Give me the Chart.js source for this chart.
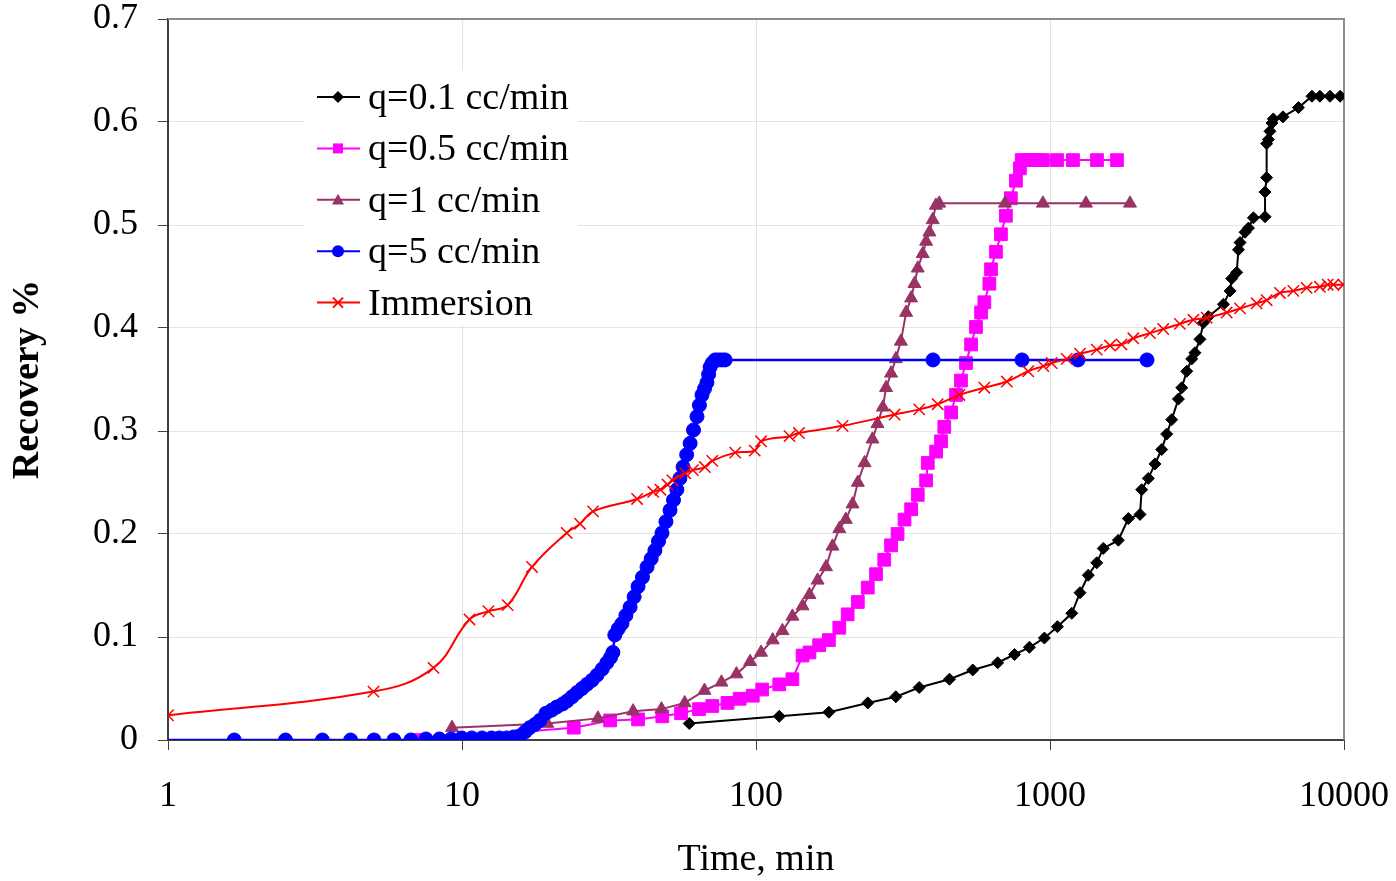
<!DOCTYPE html>
<html>
<head>
<meta charset="utf-8">
<title>Recovery vs time</title>
<script src="https://cdn.jsdelivr.net/npm/chart.js@4"></script>
<style>
    body { margin: 0; background: #fff; }
    #wrap { width: 1396px; height: 881px; }
</style>
</head>
<body>
<div id="wrap"><canvas id="chartRecovery" width="1396" height="881"></canvas></div>
<script>
// Series labels (legend order)
const seriesLabels = ['q=0.1 cc/min', 'q=0.5 cc/min', 'q=1 cc/min', 'q=5 cc/min', 'Immersion'];

// Axis ticks
const xTicks = [1, 10, 100, 1000, 10000];
const yTicks = [0, 0.1, 0.2, 0.3, 0.4, 0.5, 0.6, 0.7];

// q=0.1 cc/min
const timeQ01 = [59.3, 120, 177, 240, 299, 359, 455, 546, 664, 757, 851, 957, 1060, 1186, 1265, 1350, 1442, 1518, 1708, 1847,
    2024, 2050, 2160, 2275, 2398, 2494, 2594, 2734, 2806, 2918, 3034, 3112, 3236, 3324, 3457, 3890, 4096, 4150, 4316, 4375,
    4430, 4607, 4732, 4920, 5388, 5388, 5456, 5456, 5530, 5600, 5690, 5750, 6200, 7000, 7780, 8280, 8960, 9700];
const recQ01 = [0.016, 0.023, 0.027, 0.036, 0.042, 0.051, 0.059, 0.068, 0.075, 0.083, 0.090, 0.099, 0.110, 0.123, 0.143, 0.160, 0.172, 0.186, 0.194, 0.215,
    0.219, 0.243, 0.254, 0.268, 0.282, 0.297, 0.311, 0.331, 0.342, 0.358, 0.370, 0.376, 0.389, 0.405, 0.411, 0.423, 0.436, 0.448, 0.454, 0.476,
    0.483, 0.493, 0.497, 0.507, 0.508, 0.532, 0.546, 0.579, 0.583, 0.591, 0.599, 0.603, 0.605, 0.614, 0.625, 0.625, 0.625, 0.625];

// q=0.5 cc/min
const timeQ05 = [7.0, 24, 31.9, 39.7, 48, 55.6, 64, 71, 80, 88, 97.5, 105, 120, 133, 144, 152, 164, 177, 192, 205,
    222, 240, 256, 273, 288, 303, 320, 337, 355, 379, 384, 410, 426, 437, 461, 479, 498, 518, 539, 560,
    583, 598, 622, 630, 655, 681, 708, 736, 766, 790, 801, 830, 870, 910, 946, 1057, 1197, 1445, 1690];
const recQ05 = [0, 0.012, 0.019, 0.020, 0.023, 0.026, 0.030, 0.033, 0.036, 0.040, 0.043, 0.049, 0.054, 0.059, 0.082, 0.085, 0.092, 0.097, 0.109, 0.122,
    0.134, 0.148, 0.161, 0.175, 0.189, 0.200, 0.214, 0.224, 0.238, 0.252, 0.269, 0.280, 0.290, 0.304, 0.318, 0.335, 0.349, 0.366, 0.384, 0.401,
    0.415, 0.425, 0.443, 0.457, 0.474, 0.491, 0.509, 0.526, 0.543, 0.555, 0.563, 0.563, 0.563, 0.563, 0.563, 0.563, 0.563, 0.563, 0.563];

// q=1 cc/min
const timeQ1 = [9.25, 19.5, 29, 38.2, 47.7, 57.2, 66.8, 76.3, 85.8, 95.5, 104, 114, 123, 133, 144, 152, 162, 173, 182, 192,
    202, 213, 222, 234, 249, 259, 270, 277, 288, 299, 311, 324, 337, 346, 355, 369, 379, 389, 399, 409,
    420, 703, 946, 1325, 1871];
const recQ1 = [0.012, 0.016, 0.021, 0.028, 0.030, 0.036, 0.048, 0.056, 0.064, 0.076, 0.085, 0.097, 0.106, 0.120, 0.130, 0.141, 0.155, 0.168, 0.188, 0.205,
    0.214, 0.229, 0.250, 0.269, 0.292, 0.307, 0.323, 0.342, 0.356, 0.370, 0.387, 0.415, 0.429, 0.443, 0.458, 0.472, 0.484, 0.493, 0.505, 0.519,
    0.521, 0.521, 0.521, 0.521, 0.521];

// q=5 cc/min
const timeQ5 = [0.5, 1.68, 2.51, 3.35, 4.18, 5.02, 5.87, 6.70, 7.54, 8.38, 9.18, 9.98, 10.8, 11.7, 12.6, 13.4, 14.2, 15.0, 15.7, 16.4,
    17.0, 17.7, 18.4, 19.3, 20.2, 21.0, 22.0, 22.8, 23.7, 24.6, 25.6, 26.6, 27.7, 28.8, 30.0, 31.1, 32.0, 32.6, 33.1, 34.0,
    35.0, 36.1, 37.3, 38.5, 39.7, 41.1, 42.6, 44.0, 45.3, 46.6, 47.9, 49.4, 51.0, 52.4, 53.8, 55.1, 56.5, 58.1, 59.7, 61.3,
    63.0, 64.2, 65.5, 66.8, 68.1, 69.0, 69.8, 71.0, 72.6, 74.5, 76.5, 78.5, 400, 803, 1245, 2138];
const recQ5 = [0, 0, 0, 0, 0, 0, 0, 0, 0.001, 0.001, 0.001, 0.002, 0.002, 0.002, 0.002, 0.002, 0.002, 0.003, 0.004, 0.008,
    0.012, 0.015, 0.019, 0.026, 0.029, 0.032, 0.035, 0.038, 0.042, 0.046, 0.050, 0.054, 0.058, 0.063, 0.069, 0.075, 0.080, 0.085, 0.102, 0.108,
    0.113, 0.121, 0.129, 0.139, 0.149, 0.158, 0.168, 0.176, 0.184, 0.193, 0.201, 0.212, 0.223, 0.233, 0.243, 0.254, 0.265, 0.277, 0.288, 0.301,
    0.314, 0.325, 0.335, 0.341, 0.347, 0.355, 0.362, 0.366, 0.369, 0.369, 0.369, 0.369, 0.369, 0.369, 0.369, 0.369];

// Immersion
const timeImm = [1, 5, 8, 10.6, 12.3, 14.3, 17.3, 22.7, 25.2, 27.9, 39.4, 44.7, 47.3, 50, 52, 57.4, 61, 67, 71, 85,
    99, 104, 130, 140, 197, 296, 359, 415, 492, 598, 713, 843, 949, 1013, 1140, 1265, 1442, 1600, 1750, 1920,
    2188, 2428, 2765, 3074, 3412, 3990, 4430, 5045, 5456, 6055, 6725, 7465, 8280, 8800, 9200, 9950];
const recImm = [0.024, 0.047, 0.070, 0.117, 0.125, 0.131, 0.168, 0.201, 0.210, 0.222, 0.234, 0.241, 0.243, 0.248, 0.252, 0.259, 0.262, 0.265, 0.271, 0.279,
    0.281, 0.290, 0.295, 0.298, 0.305, 0.316, 0.321, 0.326, 0.335, 0.342, 0.348, 0.358, 0.363, 0.366, 0.370, 0.375, 0.379, 0.383, 0.384, 0.390,
    0.395, 0.399, 0.404, 0.408, 0.410, 0.415, 0.419, 0.424, 0.427, 0.434, 0.436, 0.439, 0.440, 0.442, 0.442, 0.442];

const FONT = '"Liberation Serif", "Times New Roman", serif';

function toPoints(times, values) {
    return times.map((t, i) => ({ x: t, y: values[i] }));
}

function makeSeries(i, times, values, color, style, radius, extra) {
    return Object.assign({
        label: seriesLabels[i],
        data: toPoints(times, values),
        borderColor: color,
        backgroundColor: color,
        borderWidth: 2,
        pointStyle: style,
        pointRadius: radius,
        pointBorderWidth: 1,
        pointBorderColor: color,
        pointBackgroundColor: color,
        tension: 0,
        order: 5 - i // later series drawn on top, like the original
    }, extra || {});
}

// Marker shapes for the legend
function drawMarker(ctx, style, x, y, r, color) {
    ctx.save();
    ctx.fillStyle = color;
    ctx.strokeStyle = color;
    ctx.lineWidth = 2;
    ctx.beginPath();
    if (style === 'rectRot') {
        ctx.moveTo(x, y - r); ctx.lineTo(x + r, y); ctx.lineTo(x, y + r); ctx.lineTo(x - r, y);
        ctx.closePath(); ctx.fill();
    } else if (style === 'rect') {
        ctx.rect(x - r, y - r, 2 * r, 2 * r); ctx.fill();
    } else if (style === 'triangle') {
        ctx.moveTo(x, y - r); ctx.lineTo(x + r, y + r * 0.8); ctx.lineTo(x - r, y + r * 0.8);
        ctx.closePath(); ctx.fill();
    } else if (style === 'circle') {
        ctx.arc(x, y, r, 0, Math.PI * 2); ctx.fill();
    } else {
        ctx.moveTo(x - r, y - r); ctx.lineTo(x + r, y + r);
        ctx.moveTo(x + r, y - r); ctx.lineTo(x - r, y + r);
        ctx.stroke();
    }
    ctx.restore();
}

const legendItems = [
    { color: '#000000', style: 'rectRot', r: 6 },
    { color: '#FF00FF', style: 'rect', r: 5 },
    { color: '#993366', style: 'triangle', r: 6 },
    { color: '#0000FF', style: 'circle', r: 6 },
    { color: '#FF0000', style: 'cross', r: 5 }
];

const insideLegend = {
    id: 'insideLegend',
    afterDatasetsDraw(chart) {
        const ctx = chart.ctx;
        ctx.save();
        ctx.fillStyle = '#ffffff';
        ctx.fillRect(305, 70, 273, 255);
        ctx.font = '38px ' + FONT;
        ctx.textBaseline = 'middle';
        ctx.textAlign = 'left';
        legendItems.forEach((item, i) => {
            const y = 97 + i * 51.4;
            ctx.strokeStyle = item.color;
            ctx.lineWidth = 2;
            ctx.beginPath();
            ctx.moveTo(317, y);
            ctx.lineTo(360, y);
            ctx.stroke();
            drawMarker(ctx, item.style, 338, y, item.r, item.color);
            ctx.fillStyle = '#000';
            ctx.fillText(seriesLabels[i], 368, y + 2);
        });
        ctx.restore();
    }
};

// Grey frame on top and right of the plot area
const plotFrame = {
    id: 'plotFrame',
    beforeDatasetsDraw(chart) {
        const { ctx, chartArea } = chart;
        ctx.save();
        ctx.strokeStyle = '#8c8c8c';
        ctx.lineWidth = 2;
        ctx.beginPath();
        ctx.moveTo(chartArea.left, chartArea.top);
        ctx.lineTo(chartArea.right, chartArea.top);
        ctx.lineTo(chartArea.right, chartArea.bottom);
        ctx.stroke();
        ctx.restore();
    }
};

// keep the plot area fixed: ignore label overhang padding
function noOverhang(scale) {
    scale.paddingTop = 0;
    scale.paddingBottom = 0;
    scale.paddingLeft = 0;
    scale.paddingRight = 0;
}

document.addEventListener('DOMContentLoaded', () => {
    const ctx = document.getElementById('chartRecovery').getContext('2d');
    new Chart(ctx, {
        type: 'line',
        data: {
            datasets: [
                makeSeries(0, timeQ01, recQ01, '#000000', 'rectRot', 6),
                makeSeries(1, timeQ05, recQ05, '#FF00FF', 'rect', 9),
                makeSeries(2, timeQ1, recQ1, '#993366', 'triangle', 7.5),
                makeSeries(3, timeQ5, recQ5, '#0000FF', 'circle', 7, { borderWidth: 2.5 }),
                makeSeries(4, timeImm, recImm, '#FF0000', 'crossRot', 8, { tension: 0.4, pointBorderWidth: 1.5 })
            ]
        },
        options: {
            responsive: false,
            animation: false,
            layout: { padding: { top: 19, right: 52, left: 0, bottom: 0 } },
            plugins: {
                legend: { display: false },
                tooltip: { enabled: false }
            },
            scales: {
                x: {
                    type: 'logarithmic',
                    min: 1,
                    max: 10000,
                    afterBuildTicks: (scale) => {
                        scale.ticks = xTicks.map(v => ({ value: v, major: true }));
                    },
                    afterFit: (scale) => { scale.height = 141; noOverhang(scale); },
                    grid: { color: '#e3e3e3', lineWidth: 1, tickColor: '#404040', tickLength: 10 },
                    border: { color: '#404040', width: 2 },
                    ticks: {
                        color: '#000',
                        font: { family: FONT, size: 36, lineHeight: 1 },
                        padding: 29,
                        maxRotation: 0,
                        autoSkip: false,
                        callback: (value) => String(value)
                    },
                    title: {
                        display: true,
                        text: 'Time, min',
                        color: '#000',
                        font: { family: FONT, size: 38, lineHeight: 1.1 },
                        padding: { top: 0, bottom: 0 }
                    }
                },
                y: {
                    min: 0,
                    max: 0.7,
                    afterBuildTicks: (scale) => {
                        scale.ticks = yTicks.map(v => ({ value: v }));
                    },
                    afterFit: (scale) => { scale.width = 168; noOverhang(scale); },
                    grid: { color: '#e3e3e3', lineWidth: 1, tickColor: '#404040', tickLength: 10 },
                    border: { color: '#404040', width: 2 },
                    ticks: {
                        color: '#000',
                        font: { family: FONT, size: 36, lineHeight: 1 },
                        padding: 20,
                        callback: (value) => value === 0 ? '0' : value.toFixed(1)
                    },
                    title: {
                        display: true,
                        text: 'Recovery %',
                        color: '#000',
                        font: { family: FONT, size: 38, weight: 'bold' },
                        padding: { top: 5, bottom: 0 }
                    }
                }
            }
        },
        plugins: [plotFrame, insideLegend]
    });
});
</script>
</body>
</html>
